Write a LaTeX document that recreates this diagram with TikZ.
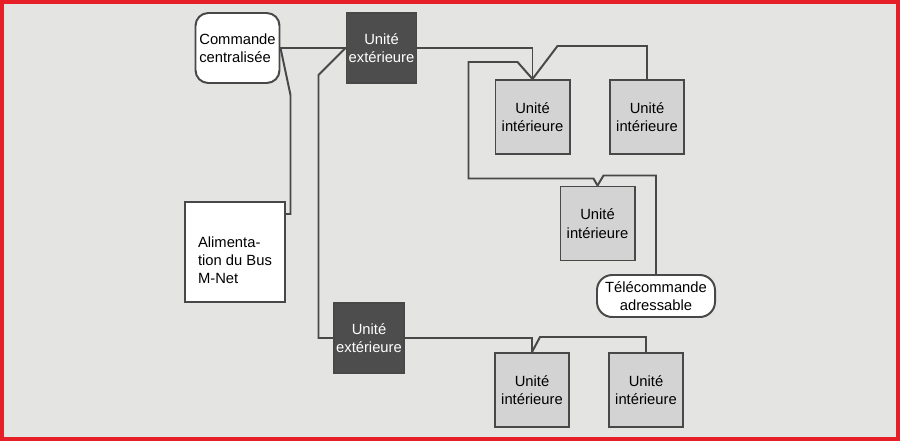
\documentclass[tikz,border=0pt]{standalone}
\usepackage{fontspec}
\setmainfont{Liberation Sans}
\usepackage{tikz}
\usetikzlibrary{calc}
\definecolor{bggray}{RGB}{228,228,226}
\definecolor{framered}{RGB}{230,30,40}
\definecolor{darkunit}{RGB}{77,77,77}
\definecolor{lightunit}{RGB}{211,211,211}
\definecolor{linegray}{RGB}{72,72,72}
\tikzset
{
  unitbox/.style={draw=linegray,line width=1.4pt,font=\fontsize{10.5}{13}\selectfont,align=center,inner sep=0pt},
  outdoor/.style={unitbox,fill=darkunit,text=white,minimum size=1.75cm},
  indoor/.style={unitbox,fill=lightunit,minimum size=1.85cm},
  control/.style={unitbox,fill=white,rounded corners=0.32cm},
  bus/.style={draw=linegray,line width=1.4pt}
}

\begin{document}
\begin{tikzpicture}[x=0.025cm,y=-0.025cm]
        % Draw background and frame
        \useasboundingbox (0,0) rectangle (900,441);
        \fill[bggray] (0,0) rectangle (900,441);
        \draw[framered,line width=0.1cm] (2,2) rectangle (898,439);

        % Controls and power supply
        \node[control,align=left,minimum width=2.1cm,minimum height=1.75cm] (cc) at (237.5,48) {Commande\\centralisée};
        \node[unitbox,fill=white,minimum size=2.5cm] (alim) at (235,252)
            {\raisebox{-0.34cm}[0pt][0pt]{\begin{tabular}{@{}l@{}}Alimenta-\\tion du Bus\\M-Net\end{tabular}}};
        \node[control,minimum width=2.95cm,minimum height=1.05cm,rounded corners=0.38cm] (tc) at (656,296) {Télécommande\\adressable};

        % Outdoor units
        \node[outdoor] (ue1) at (381.5,48) {Unité\\extérieure};
        \node[outdoor] (ue2) at (369,338) {Unité\\extérieure};

        % Indoor units
        \node[indoor] (iu1) at (532.5,117) {Unité\\intérieure};
        \node[indoor] (iu2) at (647,117) {Unité\\intérieure};
        \node[indoor] (iu3) at (597.5,223.5) {Unité\\intérieure};
        \node[indoor] (iu4) at (532,390) {Unité\\intérieure};
        \node[indoor] (iu5) at (646,390) {Unité\\intérieure};

        % Bus lines
        \draw[bus] (cc.east) -- (ue1.west);
        \draw[bus] (cc.east) -- ++(10,47) |- ($(alim.north east)+(0,13)$);
        \draw[bus] (ue1.west) -- ++(-27,27) |- (ue2.west);
        \draw[bus] (ue1.east) -| (iu1.north);
        \draw[bus] (iu1.north) -- ++(25,-33) -| (iu2.north);
        \draw[bus] (iu1.north) -- ++(-15,-17) -- ++(-49,0) |- ($(iu3.north)+(-4,-7)$) -- (iu3.north);
        \draw[bus] (iu3.north) -- ++(6,-10) -| (tc.north);
        \draw[bus] (ue2.east) -| (iu4.north);
        \draw[bus] (iu4.north) -- ++(8,-15) -| (iu5.north);
    \end{tikzpicture}
\end{document}
